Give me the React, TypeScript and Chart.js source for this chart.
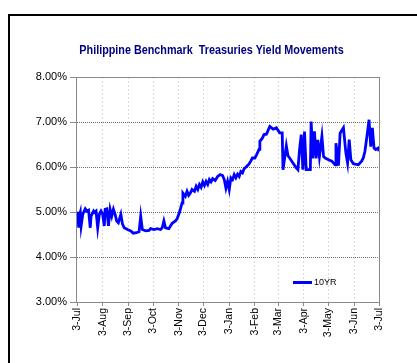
import React, { useEffect, useRef } from 'react';
import { Chart, registerables } from 'chart.js';

Chart.register(...registerables);

const chartTitle = 'Philippine Benchmark  Treasuries Yield Movements';
const seriesName = '10YR';

// days counted from 3-Jul
const monthTickDays = [0, 31, 62, 92, 123, 153, 184, 215, 243, 274, 304, 335, 365];
const monthTickLabels = ['3-Jul', '3-Aug', '3-Sep', '3-Oct', '3-Nov', '3-Dec', '3-Jan', '3-Feb', '3-Mar', '3-Apr', '3-May', '3-Jun', '3-Jul'];
const yTickValues = [3, 4, 5, 6, 7, 8];

const yieldDays = [
  0, 1, 2, 3, 4, 5, 7, 10, 12, 14, 16, 17, 20, 21, 23, 25, 27, 29, 31, 33,
  34, 36, 38, 40, 42, 44, 46, 48, 50, 53, 55, 57, 61, 65, 68, 72, 75, 77, 79, 83,
  87, 89, 93, 97, 101, 103, 105, 107, 111, 115, 119, 121, 124, 127, 128, 131, 133, 135, 137, 139,
  142, 144, 146, 148, 150, 152, 154, 156, 158, 160, 162, 164, 167, 170, 173, 176, 178, 180, 182, 184,
  186, 188, 190, 192, 194, 196, 198, 200, 202, 205, 208, 210, 212, 215, 217, 220, 221, 224, 226, 229,
  233, 237, 241, 245, 248, 249, 253, 255, 257, 261, 265, 267, 269, 271, 273, 275, 277,
  282, 283, 285, 287, 289, 291, 293, 296, 298, 300, 304, 308, 312, 313, 316, 318, 322, 325, 327, 329,
  331, 334, 340, 344, 346, 348, 351, 353, 355, 357, 359, 361, 364, 365,
];
const yieldValues = [
  5.0, 4.97, 4.65, 4.92, 4.99, 4.69, 4.95, 5.07, 5.02, 5.04, 4.65, 4.91, 5.02, 4.99, 5.02, 4.65, 4.95, 5.02, 4.95, 4.69,
  5.06, 5.07, 4.69, 5.06, 4.91, 5.06, 4.95, 4.8, 4.76, 4.95, 4.73, 4.65, 4.61, 4.58, 4.53, 4.54, 4.56, 4.91, 4.61, 4.58,
  4.59, 4.63, 4.61, 4.63, 4.61, 4.65, 4.8, 4.65, 4.63, 4.75, 4.8, 4.85, 5.0, 5.2, 5.42, 5.35, 5.46, 5.37, 5.42, 5.5,
  5.46, 5.57, 5.5, 5.61, 5.55, 5.67, 5.59, 5.68, 5.61, 5.72, 5.67, 5.74, 5.7, 5.79, 5.83, 5.81, 5.72, 5.53, 5.68, 5.5,
  5.76, 5.72, 5.83, 5.76, 5.84, 5.79, 5.9, 5.87, 5.96, 6.01, 6.07, 6.13, 6.2, 6.2, 6.27, 6.39, 6.57, 6.64, 6.72, 6.73,
  6.9, 6.84, 6.87, 6.76, 6.76, 5.94, 6.47, 6.25, 6.2, 6.09, 5.98, 5.94, 6.39, 6.72, 5.94, 6.79, 5.94,
  5.94, 7.01, 6.19, 6.79, 6.19, 6.6, 6.23, 6.68, 6.23, 6.2, 6.16, 6.13, 6.05, 6.53, 6.03, 6.75, 6.87, 6.31, 6.09, 6.61,
  6.16, 6.07, 6.05, 6.13, 6.2, 6.35, 6.76, 7.05, 6.45, 6.87, 6.42, 6.39, 6.42, 6.35,
];

const FONT = "'Liberation Sans', Arial, sans-serif";

const decorPlugin = {
  id: 'decor',
  beforeDatasetsDraw(chart: any) {
    const { ctx, chartArea: a } = chart;
    ctx.save();
    ctx.strokeStyle = '#8a8a8a';
    ctx.lineWidth = 1;
    ctx.setLineDash([]);
    ctx.strokeRect(a.left - 0.5, a.top + 0.5, a.right - a.left + 1, a.bottom - a.top);
    ctx.restore();
  },
  afterDraw(chart: any) {
    const { ctx, chartArea: a } = chart;
    ctx.save();
    // title
    ctx.font = `bold 12px ${FONT}`;
    ctx.fillStyle = '#000080';
    ctx.textAlign = 'center';
    ctx.textBaseline = 'middle';
    ctx.translate(chart.width / 2 + 3, 51);
    ctx.scale(0.9, 1);
    ctx.fillText(chartTitle, 0, 0);
    ctx.restore();
    // legend
    ctx.save();
    const ly = a.bottom - 19.5;
    const lx = a.right - 86;
    ctx.strokeStyle = '#0000ff';
    ctx.lineWidth = 3;
    ctx.beginPath();
    ctx.moveTo(lx, ly);
    ctx.lineTo(lx + 19, ly);
    ctx.stroke();
    ctx.font = `9px ${FONT}`;
    ctx.fillStyle = '#000';
    ctx.textAlign = 'left';
    ctx.textBaseline = 'middle';
    ctx.fillText(seriesName, lx + 21, ly + 0.5);
    ctx.restore();
  },
};

export default function App() {
  const canvasRef = useRef<HTMLCanvasElement | null>(null);

  useEffect(() => {
    const canvas = canvasRef.current;
    if (!canvas) return;
    const points = yieldDays.map((d, i) => ({ x: d, y: yieldValues[i] }));
    const chart = new Chart(canvas, {
      type: 'line',
      data: {
        datasets: [
          {
            label: seriesName,
            data: points,
            borderColor: '#0000ff',
            borderWidth: 2.8,
            pointRadius: 0,
            tension: 0,
            fill: false,
          },
        ],
      },
      options: {
        animation: false,
        responsive: false,
        devicePixelRatio: 1,
        layout: { padding: { left: 17, right: 38, top: 77, bottom: 6 } },
        plugins: {
          legend: { display: false },
          title: { display: false },
          tooltip: { enabled: false },
        },
        scales: {
          x: {
            type: 'linear',
            min: 0,
            max: 365,
            afterBuildTicks: (scale: any) => {
              scale.ticks = monthTickDays.map((v) => ({ value: v }));
            },
            afterFit: (scale: any) => {
              scale.height = 55;
            },
            ticks: {
              autoSkip: false,
              maxRotation: 90,
              minRotation: 90,
              padding: 2,
              color: '#000',
              font: { family: FONT, size: 10.5 },
              callback: (value: any) => {
                const idx = monthTickDays.indexOf(Number(value));
                return idx >= 0 ? monthTickLabels[idx] : '';
              },
            },
            grid: {
              color: (ctx: any) => {
                const v = ctx.tick ? ctx.tick.value : null;
                return v === 0 || v === 365 ? 'rgba(0,0,0,0)' : '#d9d9d9';
              },
              lineWidth: 1,
              tickLength: 4,
              tickColor: '#8a8a8a',
            },
            border: { display: false, dash: [2, 2] },
          },
          y: {
            type: 'linear',
            min: 3,
            max: 8,
            afterBuildTicks: (scale: any) => {
              scale.ticks = yTickValues.map((v) => ({ value: v }));
            },
            afterFit: (scale: any) => {
              scale.width = 60;
            },
            ticks: {
              padding: 3,
              color: '#000',
              font: { family: FONT, size: 11 },
              callback: (value: any) => Number(value).toFixed(2) + '%',
            },
            grid: {
              color: (ctx: any) => {
                const v = ctx.tick ? ctx.tick.value : null;
                return v === 3 || v === 8 ? 'rgba(0,0,0,0)' : '#6e6e6e';
              },
              lineWidth: 1,
              tickLength: 7,
              tickColor: '#8a8a8a',
            },
            border: { display: false, dash: [1, 1] },
          },
        },
      },
      plugins: [decorPlugin],
    } as any);
    return () => chart.destroy();
  }, []);

  return (
    <div style={{ position: 'absolute', left: 0, top: 0, width: 417, height: 363, background: '#fff', overflow: 'hidden' }}>
      <div
        style={{
          position: 'absolute',
          left: 8,
          top: 14,
          width: 409,
          height: 349,
          borderTop: '2px solid #000',
          borderLeft: '2px solid #000',
          boxSizing: 'border-box',
        }}
      />
      <canvas ref={canvasRef} width={417} height={363} style={{ position: 'absolute', left: 0, top: 0 }} />
    </div>
  );
}
